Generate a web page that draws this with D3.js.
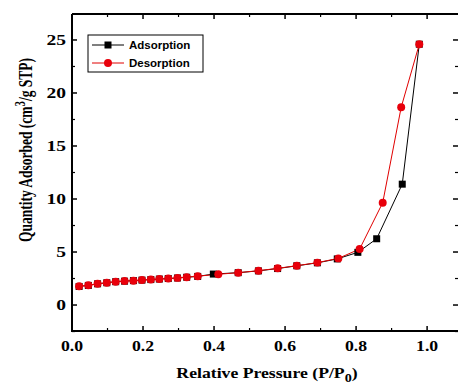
<!DOCTYPE html>
<html lang="en">
<head>
  <meta charset="UTF-8" />
  <title>N2 Isotherm</title>
  <script src="https://d3js.org/d3.v7.min.js"></script>
  <style>
    body { margin: 0; background: #fff; }
  </style>
</head>
<body>
  <svg width="458" height="387"></svg>
  <script>
    // adsorption branch
    const adsP = [0.02, 0.046, 0.072, 0.098, 0.123, 0.148, 0.173, 0.197, 0.222, 0.246, 0.271, 0.297, 0.323, 0.354, 0.398,
                  0.468, 0.525, 0.579, 0.633, 0.691, 0.747, 0.805, 0.858, 0.93, 0.978];
    const adsV = [1.75, 1.85, 2.0, 2.1, 2.2, 2.25, 2.3, 2.35, 2.4, 2.45, 2.5, 2.55, 2.62, 2.7, 2.92,
                  3.05, 3.22, 3.44, 3.7, 3.98, 4.35, 4.97, 6.25, 11.4, 24.6];
    // desorption branch
    const desP = [0.978, 0.927, 0.875, 0.81, 0.75, 0.691, 0.633, 0.579, 0.525, 0.468, 0.412, 0.354, 0.323, 0.297,
                  0.271, 0.246, 0.222, 0.197, 0.173, 0.148, 0.123, 0.098, 0.072, 0.046, 0.02];
    const desV = [24.6, 18.65, 9.65, 5.28, 4.4, 4.0, 3.71, 3.46, 3.24, 3.05, 2.9, 2.72, 2.63, 2.56,
                  2.5, 2.45, 2.4, 2.35, 2.3, 2.26, 2.2, 2.1, 2.0, 1.87, 1.78];
    const xTicks = [0, 0.2, 0.4, 0.6, 0.8, 1.0];
    const yTicks = [0, 5, 10, 15, 20, 25];

    const serif = "'Liberation Serif', 'Times New Roman', Times, serif";
    const sans = "'Liberation Sans', Arial, sans-serif";

    const svg = d3.select("svg");
    const mLeft = 72, mRight = 458, mTop = 14, mBottom = 331;

    const x = d3.scaleLinear().domain([0, 1.087]).range([mLeft, mRight]);
    const y = d3.scaleLinear().domain([-2.45, 27.45]).range([mBottom, mTop]);

    const ads = adsP.map((p, i) => ({ p, v: adsV[i] }));
    const des = desP.map((p, i) => ({ p, v: desV[i] }));

    // axes with inward ticks
    const g = svg.append("g");
    const minorX = d3.range(0.1, 1.05, 0.2);
    const minorY = d3.range(-2.5, 27.5, 5);

    function tickLines(data, horiz, fixed, len, w) {
      g.append("g").selectAll("line").data(data).join("line")
        .attr("x1", d => horiz ? x(d) : fixed).attr("x2", d => horiz ? x(d) : fixed + len)
        .attr("y1", d => horiz ? fixed : y(d)).attr("y2", d => horiz ? fixed + len : y(d))
        .attr("stroke", "#000").attr("stroke-width", w);
    }
    tickLines(xTicks, true, mBottom, -5, 1.5);
    tickLines(minorX, true, mBottom, -3, 1.2);
    tickLines(xTicks, true, mTop, 5, 1.5);
    tickLines(minorX, true, mTop, 3, 1.2);
    tickLines(yTicks, false, mLeft, 5, 1.5);
    tickLines(minorY, false, mLeft, 3, 1.2);
    tickLines(yTicks, false, mRight, -5, 1.5);
    tickLines(minorY, false, mRight, -3, 1.2);

    // frame
    g.append("path")
      .attr("d", `M${mLeft},${mTop}H${mRight + 2}M${mLeft},${mTop}V${mBottom}H${mRight + 2}`)
      .attr("fill", "none").attr("stroke", "#000").attr("stroke-width", 2);

    // tick labels (the source is a bit stretched sideways)
    g.append("g").selectAll("text").data(xTicks).join("text")
      .attr("font-family", serif).attr("font-weight", "bold").attr("font-size", 15)
      .attr("transform", d => `translate(${x(d)},351) scale(1.18,1)`)
      .attr("text-anchor", "middle")
      .text(d => d3.format(".1f")(d));
    g.append("g").selectAll("text").data(yTicks).join("text")
      .attr("font-family", serif).attr("font-weight", "bold").attr("font-size", 15)
      .attr("transform", d => `translate(66,${y(d)}) scale(1.3,1)`)
      .attr("dy", "0.35em")
      .attr("text-anchor", "end")
      .text(d => d);

    // titles
    const xt = svg.append("text")
      .attr("font-family", serif).attr("font-weight", "bold").attr("font-size", 15)
      .attr("transform", "translate(267,378) scale(1.18,1)")
      .attr("text-anchor", "middle");
    xt.append("tspan").text("Relative Pressure (P/P");
    xt.append("tspan").attr("font-size", 12).attr("dy", 3.5).text("0");
    xt.append("tspan").attr("dy", -3.5).text(")");

    const yt = svg.append("text")
      .attr("font-family", serif).attr("font-weight", "bold").attr("font-size", 15)
      .attr("transform", "translate(32,150) rotate(-90) scale(0.9,1.2)")
      .attr("text-anchor", "middle");
    yt.append("tspan").text("Quantity Adsorbed (cm");
    yt.append("tspan").attr("font-size", 12).attr("dy", -6).text("3");
    yt.append("tspan").attr("dy", 6).text("/g STP)");

    // lines
    const line = d3.line().x(d => x(d.p)).y(d => y(d.v));
    svg.append("path").datum(ads).attr("d", line)
      .attr("fill", "none").attr("stroke", "#000").attr("stroke-width", 1);
    svg.append("path").datum(des).attr("d", line)
      .attr("fill", "none").attr("stroke", "#e00000").attr("stroke-width", 1);

    svg.append("g").selectAll("rect").data(ads).join("rect")
      .attr("x", d => x(d.p) - 3.5).attr("y", d => y(d.v) - 3.5)
      .attr("width", 7).attr("height", 7).attr("fill", "#000");
    const dot = d3.symbol().type(d3.symbolCircle).size(50);
    svg.append("g").selectAll("path").data(des).join("path")
      .attr("transform", d => `translate(${x(d.p)},${y(d.v)})`)
      .attr("d", dot).attr("fill", "#e8000b");

    // legend
    const lg = svg.append("g");
    lg.append("rect").attr("x", 88).attr("y", 35).attr("width", 115).attr("height", 37)
      .attr("fill", "#fff").attr("stroke", "#000").attr("stroke-width", 1);
    const items = [["Adsorption", "#000", "sq"], ["Desorption", "#e00000", "ci"]];
    items.forEach(([name, c, m], i) => {
      const yy = 45 + i * 18;
      lg.append("line").attr("x1", 92).attr("x2", 124).attr("y1", yy).attr("y2", yy)
        .attr("stroke", c).attr("stroke-width", 1);
      if (m === "sq") {
        lg.append("rect").attr("x", 104.5).attr("y", yy - 3.5).attr("width", 7).attr("height", 7).attr("fill", c);
      } else {
        lg.append("path").attr("transform", `translate(108,${yy})`).attr("d", dot).attr("fill", "#e8000b");
      }
      lg.append("text").attr("font-family", sans).attr("font-weight", "bold").attr("font-size", 11.5)
        .attr("x", 129).attr("y", yy).attr("dy", "0.35em").text(name);
    });
  </script>
</body>
</html>
